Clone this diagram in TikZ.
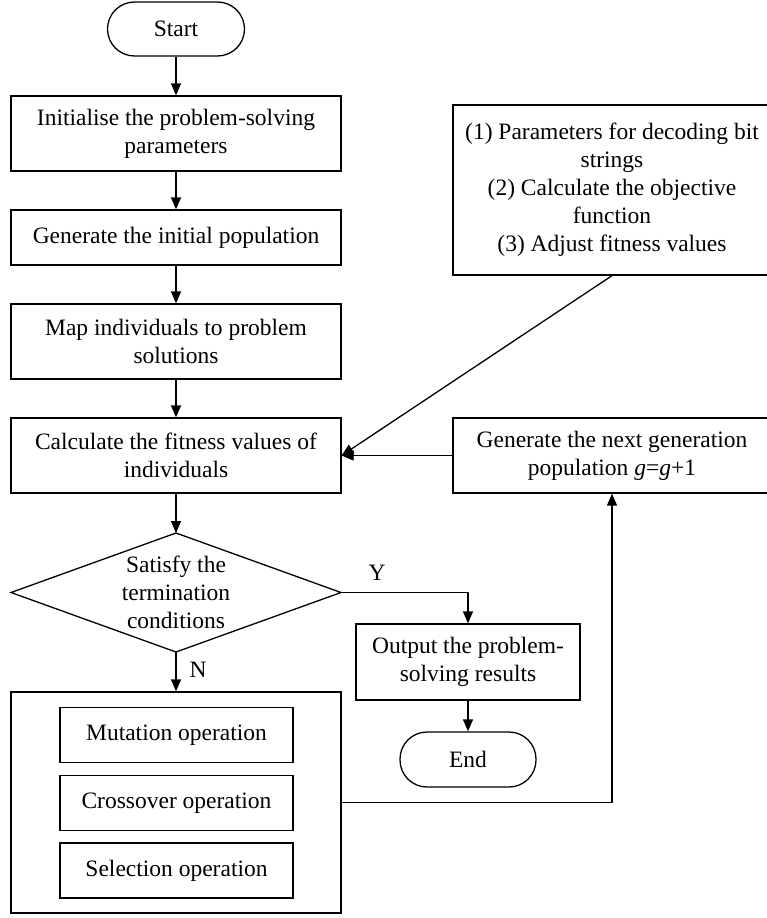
\documentclass[tikz,border=0pt]{standalone}
\usepackage{fontspec}
\setmainfont{Liberation Serif}
\usetikzlibrary{arrows.meta}
\begin{document}
\begin{tikzpicture}[x=1pt,y=-1pt,
  every node/.style={font=\fontsize{23.5}{28}\selectfont},
  box/.style={draw, line width=1.3pt, inner sep=0pt, align=center},
  term/.style={box, rounded corners=27pt},
  arr/.style={line width=1.3pt, -{Triangle[length=12pt,width=10pt]}},
  ln/.style={line width=1.3pt},
  lbl/.style={inner sep=0pt}]
\useasboundingbox (0,0) rectangle (767,918);
\node[term, minimum width=137pt, minimum height=54pt] (start) at (176,29) {Start};
\node[box, minimum width=330pt, minimum height=75pt] (init) at (176,133.5) {Initialise the problem-solving\\parameters};
\node[box, minimum width=330pt, minimum height=55pt] (gen) at (176,237.5) {Generate the initial population};
\node[box, minimum width=330pt, minimum height=75pt] (map) at (176,341.5) {Map individuals to problem\\solutions};
\node[box, minimum width=330pt, minimum height=75pt] (calc) at (176,455.5) {Calculate the fitness values of\\individuals};
\coordinate (dT) at (176,533);
\coordinate (dR) at (341,592.5);
\coordinate (dB) at (176,652);
\coordinate (dL) at (11,592.5);
\draw[ln] (dT) -- (dR) -- (dB) -- (dL) -- cycle;
\node[align=center, inner sep=0pt] (dec) at (176,592.5) {Satisfy the\\termination\\conditions};
\node[box, minimum width=330pt, minimum height=221pt] (ops) at (176,802.5) {};
\node[box, minimum width=233pt, minimum height=55pt] (mut) at (176.5,735) {Mutation operation};
\node[box, minimum width=233pt, minimum height=55pt] (cro) at (176.5,803) {Crossover operation};
\node[box, minimum width=233pt, minimum height=55pt] (sel) at (176.5,870.5) {Selection operation};
\node[box, minimum width=318pt, minimum height=170pt] (par) at (612,190) {(1) Parameters for decoding bit\\strings\\(2) Calculate the objective\\function\\(3) Adjust fitness values};
\node[box, minimum width=318pt, minimum height=75pt] (next) at (612,455.5) {Generate the next generation\\population \textit{g}=\textit{g}+1};
\node[box, minimum width=224pt, minimum height=76pt] (out) at (468,662) {Output the problem-\\solving results};
\node[term, minimum width=136pt, minimum height=55pt] (end) at (468,759.5) {End};
\node[lbl] (ylab) at (377,573) {Y};
\node[lbl] (nlab) at (198,670) {N};
\draw[arr] (start) -- (init);
\draw[arr] (init) -- (gen);
\draw[arr] (gen) -- (map);
\draw[arr] (map) -- (calc);
\draw[arr] (calc) -- (dT);
\draw[arr] (dB) -- (ops);
\draw[arr] (dR) -| (out.north);
\draw[arr] (out) -- (end);
\draw[arr] (ops.east) -| (next.south);
\draw[arr] (next.west) -- (calc.east);
\draw[arr] (par.south) -- (calc.east);
\end{tikzpicture}
\end{document}
